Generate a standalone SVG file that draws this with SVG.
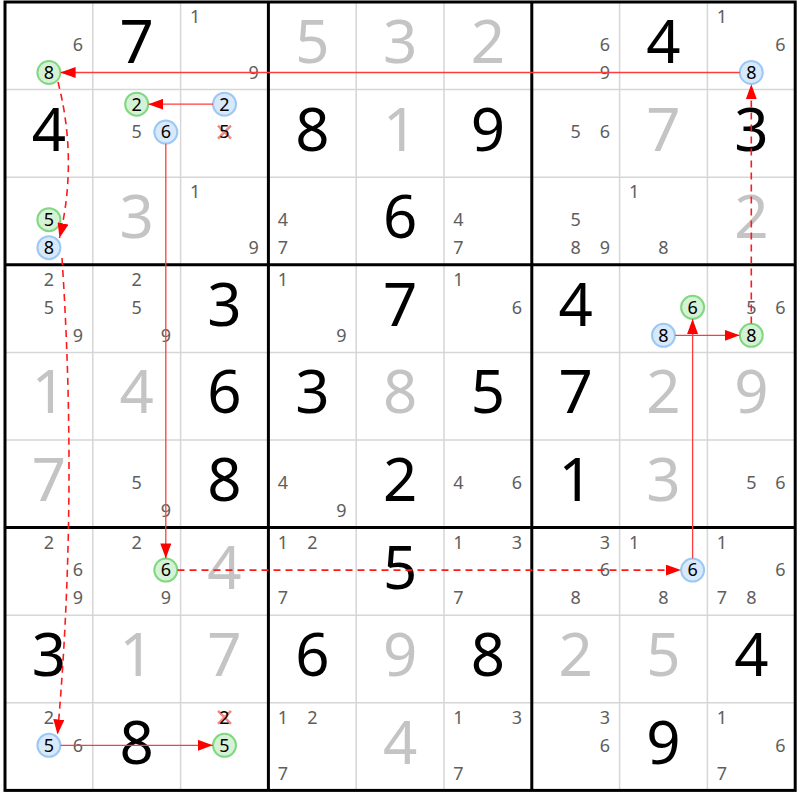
<svg xmlns="http://www.w3.org/2000/svg" width="800" height="800" viewBox="0 0 800 800">
<style>
text{font-family:"Noto Sans","Open Sans","DejaVu Sans",sans-serif;text-anchor:middle}
.g{font-size:60px;fill:#000}
.s{font-size:60px;fill:#c4c4c4}
.c{font-size:18px;fill:#5e5e5e}
.k{font-size:18px;fill:#000}
.cg{fill:#d6f2d6;stroke:#80d880;stroke-width:2}
.cb{fill:#d8e9fb;stroke:#9cc8f4;stroke-width:2}
.x{stroke:#f08888;stroke-width:2.5;fill:none}
.thin{stroke:#d6d6d6;stroke-width:1.5}
.thick{stroke:#000;stroke-width:3}
.sol{stroke:#ff3c3c;stroke-width:1.3;fill:none}
.dash{stroke:#ff1a1a;stroke-width:1.6;fill:none;stroke-dasharray:7 5}
</style>
<defs>
<marker id="ah" markerUnits="userSpaceOnUse" markerWidth="15" markerHeight="11" refX="15" refY="5.5" orient="auto">
<path d="M0,0 L15,5.5 L0,11 z" fill="#ff0000"/>
</marker>
</defs>
<rect width="800" height="800" fill="#fff"/>
<g id="grid">
<path class="thin" d="M92.8 2V790.4M180.6 2V790.4M356.2 2V790.4M444 2V790.4M619.6 2V790.4M707.4 2V790.4M5 89.6H795.2M5 177.2H795.2M5 352.4H795.2M5 440H795.2M5 615.2H795.2M5 702.8H795.2"/>
<path class="thick" d="M268.4 2V790.4M531.8 2V790.4M5 264.8H795.2M5 527.6H795.2"/>
<rect x="5" y="2" width="790.2" height="788.4" fill="none" stroke="#000" stroke-width="3"/>
</g>
<!-- Row 1 -->
<g id="r1c1" transform="translate(5,2)"><text class="c" x="73" y="48.9">6</text><circle class="cg" cx="43.9" cy="70.5" r="11.5"/><text class="k" x="43.9" y="76.9">8</text></g>
<g id="r1c2" transform="translate(92.8,2)"><text class="g" x="43.9" y="61">7</text></g>
<g id="r1c3" transform="translate(180.6,2)"><text class="c" x="14.5" y="21">1</text><text class="c" x="73" y="76.9">9</text></g>
<g id="r1c4" transform="translate(268.4,2)"><text class="s" x="43.9" y="61">5</text></g>
<g id="r1c5" transform="translate(356.2,2)"><text class="s" x="43.9" y="61">3</text></g>
<g id="r1c6" transform="translate(444,2)"><text class="s" x="43.9" y="61">2</text></g>
<g id="r1c7" transform="translate(531.8,2)"><text class="c" x="73" y="48.9">6</text><text class="c" x="73" y="76.9">9</text></g>
<g id="r1c8" transform="translate(619.6,2)"><text class="g" x="43.9" y="61">4</text></g>
<g id="r1c9" transform="translate(707.4,2)"><text class="c" x="14.5" y="21">1</text><text class="c" x="73" y="48.9">6</text><circle class="cb" cx="43.9" cy="70.5" r="11.5"/><text class="k" x="43.9" y="76.9">8</text></g>
<!-- Row 2 -->
<g id="r2c1" transform="translate(5,89.6)"><text class="g" x="43.9" y="61">4</text></g>
<g id="r2c2" transform="translate(92.8,89.6)"><circle class="cg" cx="43.9" cy="14.6" r="11.5"/><text class="k" x="43.9" y="21">2</text><text class="c" x="43.9" y="48.9">5</text><circle class="cb" cx="73" cy="42.5" r="11.5"/><text class="k" x="73" y="48.9">6</text></g>
<g id="r2c3" transform="translate(180.6,89.6)"><circle class="cb" cx="43.9" cy="14.6" r="11.5"/><text class="k" x="43.9" y="21">2</text><path class="x" d="M37.4 36L50.4 49M50.4 36L37.4 49"/><text class="k" x="43.9" y="48.9">5</text></g>
<g id="r2c4" transform="translate(268.4,89.6)"><text class="g" x="43.9" y="61">8</text></g>
<g id="r2c5" transform="translate(356.2,89.6)"><text class="s" x="43.9" y="61">1</text></g>
<g id="r2c6" transform="translate(444,89.6)"><text class="g" x="43.9" y="61">9</text></g>
<g id="r2c7" transform="translate(531.8,89.6)"><text class="c" x="43.9" y="48.9">5</text><text class="c" x="73" y="48.9">6</text></g>
<g id="r2c8" transform="translate(619.6,89.6)"><text class="s" x="43.9" y="61">7</text></g>
<g id="r2c9" transform="translate(707.4,89.6)"><text class="g" x="43.9" y="61">3</text></g>
<!-- Row 3 -->
<g id="r3c1" transform="translate(5,177.2)"><circle class="cg" cx="43.9" cy="42.5" r="11.5"/><text class="k" x="43.9" y="48.9">5</text><circle class="cb" cx="43.9" cy="70.5" r="11.5"/><text class="k" x="43.9" y="76.9">8</text></g>
<g id="r3c2" transform="translate(92.8,177.2)"><text class="s" x="43.9" y="61">3</text></g>
<g id="r3c3" transform="translate(180.6,177.2)"><text class="c" x="14.5" y="21">1</text><text class="c" x="73" y="76.9">9</text></g>
<g id="r3c4" transform="translate(268.4,177.2)"><text class="c" x="14.5" y="48.9">4</text><text class="c" x="14.5" y="76.9">7</text></g>
<g id="r3c5" transform="translate(356.2,177.2)"><text class="g" x="43.9" y="61">6</text></g>
<g id="r3c6" transform="translate(444,177.2)"><text class="c" x="14.5" y="48.9">4</text><text class="c" x="14.5" y="76.9">7</text></g>
<g id="r3c7" transform="translate(531.8,177.2)"><text class="c" x="43.9" y="48.9">5</text><text class="c" x="43.9" y="76.9">8</text><text class="c" x="73" y="76.9">9</text></g>
<g id="r3c8" transform="translate(619.6,177.2)"><text class="c" x="14.5" y="21">1</text><text class="c" x="43.9" y="76.9">8</text></g>
<g id="r3c9" transform="translate(707.4,177.2)"><text class="s" x="43.9" y="61">2</text></g>
<!-- Row 4 -->
<g id="r4c1" transform="translate(5,264.8)"><text class="c" x="43.9" y="21">2</text><text class="c" x="43.9" y="48.9">5</text><text class="c" x="73" y="76.9">9</text></g>
<g id="r4c2" transform="translate(92.8,264.8)"><text class="c" x="43.9" y="21">2</text><text class="c" x="43.9" y="48.9">5</text><text class="c" x="73" y="76.9">9</text></g>
<g id="r4c3" transform="translate(180.6,264.8)"><text class="g" x="43.9" y="61">3</text></g>
<g id="r4c4" transform="translate(268.4,264.8)"><text class="c" x="14.5" y="21">1</text><text class="c" x="73" y="76.9">9</text></g>
<g id="r4c5" transform="translate(356.2,264.8)"><text class="g" x="43.9" y="61">7</text></g>
<g id="r4c6" transform="translate(444,264.8)"><text class="c" x="14.5" y="21">1</text><text class="c" x="73" y="48.9">6</text></g>
<g id="r4c7" transform="translate(531.8,264.8)"><text class="g" x="43.9" y="61">4</text></g>
<g id="r4c8" transform="translate(619.6,264.8)"><circle class="cg" cx="73" cy="42.5" r="11.5"/><text class="k" x="73" y="48.9">6</text><circle class="cb" cx="43.9" cy="70.5" r="11.5"/><text class="k" x="43.9" y="76.9">8</text></g>
<g id="r4c9" transform="translate(707.4,264.8)"><text class="c" x="43.9" y="48.9">5</text><text class="c" x="73" y="48.9">6</text><circle class="cg" cx="43.9" cy="70.5" r="11.5"/><text class="k" x="43.9" y="76.9">8</text></g>
<!-- Row 5 -->
<g id="r5c1" transform="translate(5,352.4)"><text class="s" x="43.9" y="61">1</text></g>
<g id="r5c2" transform="translate(92.8,352.4)"><text class="s" x="43.9" y="61">4</text></g>
<g id="r5c3" transform="translate(180.6,352.4)"><text class="g" x="43.9" y="61">6</text></g>
<g id="r5c4" transform="translate(268.4,352.4)"><text class="g" x="43.9" y="61">3</text></g>
<g id="r5c5" transform="translate(356.2,352.4)"><text class="s" x="43.9" y="61">8</text></g>
<g id="r5c6" transform="translate(444,352.4)"><text class="g" x="43.9" y="61">5</text></g>
<g id="r5c7" transform="translate(531.8,352.4)"><text class="g" x="43.9" y="61">7</text></g>
<g id="r5c8" transform="translate(619.6,352.4)"><text class="s" x="43.9" y="61">2</text></g>
<g id="r5c9" transform="translate(707.4,352.4)"><text class="s" x="43.9" y="61">9</text></g>
<!-- Row 6 -->
<g id="r6c1" transform="translate(5,440)"><text class="s" x="43.9" y="61">7</text></g>
<g id="r6c2" transform="translate(92.8,440)"><text class="c" x="43.9" y="48.9">5</text><text class="c" x="73" y="76.9">9</text></g>
<g id="r6c3" transform="translate(180.6,440)"><text class="g" x="43.9" y="61">8</text></g>
<g id="r6c4" transform="translate(268.4,440)"><text class="c" x="14.5" y="48.9">4</text><text class="c" x="73" y="76.9">9</text></g>
<g id="r6c5" transform="translate(356.2,440)"><text class="g" x="43.9" y="61">2</text></g>
<g id="r6c6" transform="translate(444,440)"><text class="c" x="14.5" y="48.9">4</text><text class="c" x="73" y="48.9">6</text></g>
<g id="r6c7" transform="translate(531.8,440)"><text class="g" x="43.9" y="61">1</text></g>
<g id="r6c8" transform="translate(619.6,440)"><text class="s" x="43.9" y="61">3</text></g>
<g id="r6c9" transform="translate(707.4,440)"><text class="c" x="43.9" y="48.9">5</text><text class="c" x="73" y="48.9">6</text></g>
<!-- Row 7 -->
<g id="r7c1" transform="translate(5,527.6)"><text class="c" x="43.9" y="21">2</text><text class="c" x="73" y="48.9">6</text><text class="c" x="73" y="76.9">9</text></g>
<g id="r7c2" transform="translate(92.8,527.6)"><text class="c" x="43.9" y="21">2</text><circle class="cg" cx="73" cy="42.5" r="11.5"/><text class="k" x="73" y="48.9">6</text><text class="c" x="73" y="76.9">9</text></g>
<g id="r7c3" transform="translate(180.6,527.6)"><text class="s" x="43.9" y="61">4</text></g>
<g id="r7c4" transform="translate(268.4,527.6)"><text class="c" x="14.5" y="21">1</text><text class="c" x="43.9" y="21">2</text><text class="c" x="14.5" y="76.9">7</text></g>
<g id="r7c5" transform="translate(356.2,527.6)"><text class="g" x="43.9" y="61">5</text></g>
<g id="r7c6" transform="translate(444,527.6)"><text class="c" x="14.5" y="21">1</text><text class="c" x="73" y="21">3</text><text class="c" x="14.5" y="76.9">7</text></g>
<g id="r7c7" transform="translate(531.8,527.6)"><text class="c" x="73" y="21">3</text><text class="c" x="73" y="48.9">6</text><text class="c" x="43.9" y="76.9">8</text></g>
<g id="r7c8" transform="translate(619.6,527.6)"><text class="c" x="14.5" y="21">1</text><circle class="cb" cx="73" cy="42.5" r="11.5"/><text class="k" x="73" y="48.9">6</text><text class="c" x="43.9" y="76.9">8</text></g>
<g id="r7c9" transform="translate(707.4,527.6)"><text class="c" x="14.5" y="21">1</text><text class="c" x="73" y="48.9">6</text><text class="c" x="14.5" y="76.9">7</text><text class="c" x="43.9" y="76.9">8</text></g>
<!-- Row 8 -->
<g id="r8c1" transform="translate(5,615.2)"><text class="g" x="43.9" y="61">3</text></g>
<g id="r8c2" transform="translate(92.8,615.2)"><text class="s" x="43.9" y="61">1</text></g>
<g id="r8c3" transform="translate(180.6,615.2)"><text class="s" x="43.9" y="61">7</text></g>
<g id="r8c4" transform="translate(268.4,615.2)"><text class="g" x="43.9" y="61">6</text></g>
<g id="r8c5" transform="translate(356.2,615.2)"><text class="s" x="43.9" y="61">9</text></g>
<g id="r8c6" transform="translate(444,615.2)"><text class="g" x="43.9" y="61">8</text></g>
<g id="r8c7" transform="translate(531.8,615.2)"><text class="s" x="43.9" y="61">2</text></g>
<g id="r8c8" transform="translate(619.6,615.2)"><text class="s" x="43.9" y="61">5</text></g>
<g id="r8c9" transform="translate(707.4,615.2)"><text class="g" x="43.9" y="61">4</text></g>
<!-- Row 9 -->
<g id="r9c1" transform="translate(5,702.8)"><text class="c" x="43.9" y="21">2</text><circle class="cb" cx="43.9" cy="42.5" r="11.5"/><text class="k" x="43.9" y="48.9">5</text><text class="c" x="73" y="48.9">6</text></g>
<g id="r9c2" transform="translate(92.8,702.8)"><text class="g" x="43.9" y="61">8</text></g>
<g id="r9c3" transform="translate(180.6,702.8)"><path class="x" d="M37.4 8.1L50.4 21.1M50.4 8.1L37.4 21.1"/><text class="k" x="43.9" y="21">2</text><circle class="cg" cx="43.9" cy="42.5" r="11.5"/><text class="k" x="43.9" y="48.9">5</text></g>
<g id="r9c4" transform="translate(268.4,702.8)"><text class="c" x="14.5" y="21">1</text><text class="c" x="43.9" y="21">2</text><text class="c" x="14.5" y="76.9">7</text></g>
<g id="r9c5" transform="translate(356.2,702.8)"><text class="s" x="43.9" y="61">4</text></g>
<g id="r9c6" transform="translate(444,702.8)"><text class="c" x="14.5" y="21">1</text><text class="c" x="73" y="21">3</text><text class="c" x="14.5" y="76.9">7</text></g>
<g id="r9c7" transform="translate(531.8,702.8)"><text class="c" x="73" y="21">3</text><text class="c" x="73" y="48.9">6</text></g>
<g id="r9c8" transform="translate(619.6,702.8)"><text class="g" x="43.9" y="61">9</text></g>
<g id="r9c9" transform="translate(707.4,702.8)"><text class="c" x="14.5" y="21">1</text><text class="c" x="73" y="48.9">6</text><text class="c" x="14.5" y="76.9">7</text></g>
<g id="connectors">
<path class="sol" d="M739.8 72.5H60.6" marker-end="url(#ah)"/>
<path class="sol" d="M213 104.2H148.4" marker-end="url(#ah)"/>
<path class="sol" d="M165.8 143.8V558.4" marker-end="url(#ah)"/>
<path class="dash" d="M177.5 570.1H680.9" marker-end="url(#ah)"/>
<path class="sol" d="M692.6 558.4V319" marker-end="url(#ah)"/>
<path class="sol" d="M675.2 335.3H739.6" marker-end="url(#ah)"/>
<path class="dash" d="M751.3 323.6V84.2" marker-end="url(#ah)"/>
<path class="dash" d="M58 82Q78 160 59.5 238" marker-end="url(#ah)"/>
<path class="dash" d="M62 258Q78 500 57.5 734.5" marker-end="url(#ah)"/>
<path class="sol" d="M60.6 745.3H212.8" marker-end="url(#ah)"/>
</g>
</svg>
